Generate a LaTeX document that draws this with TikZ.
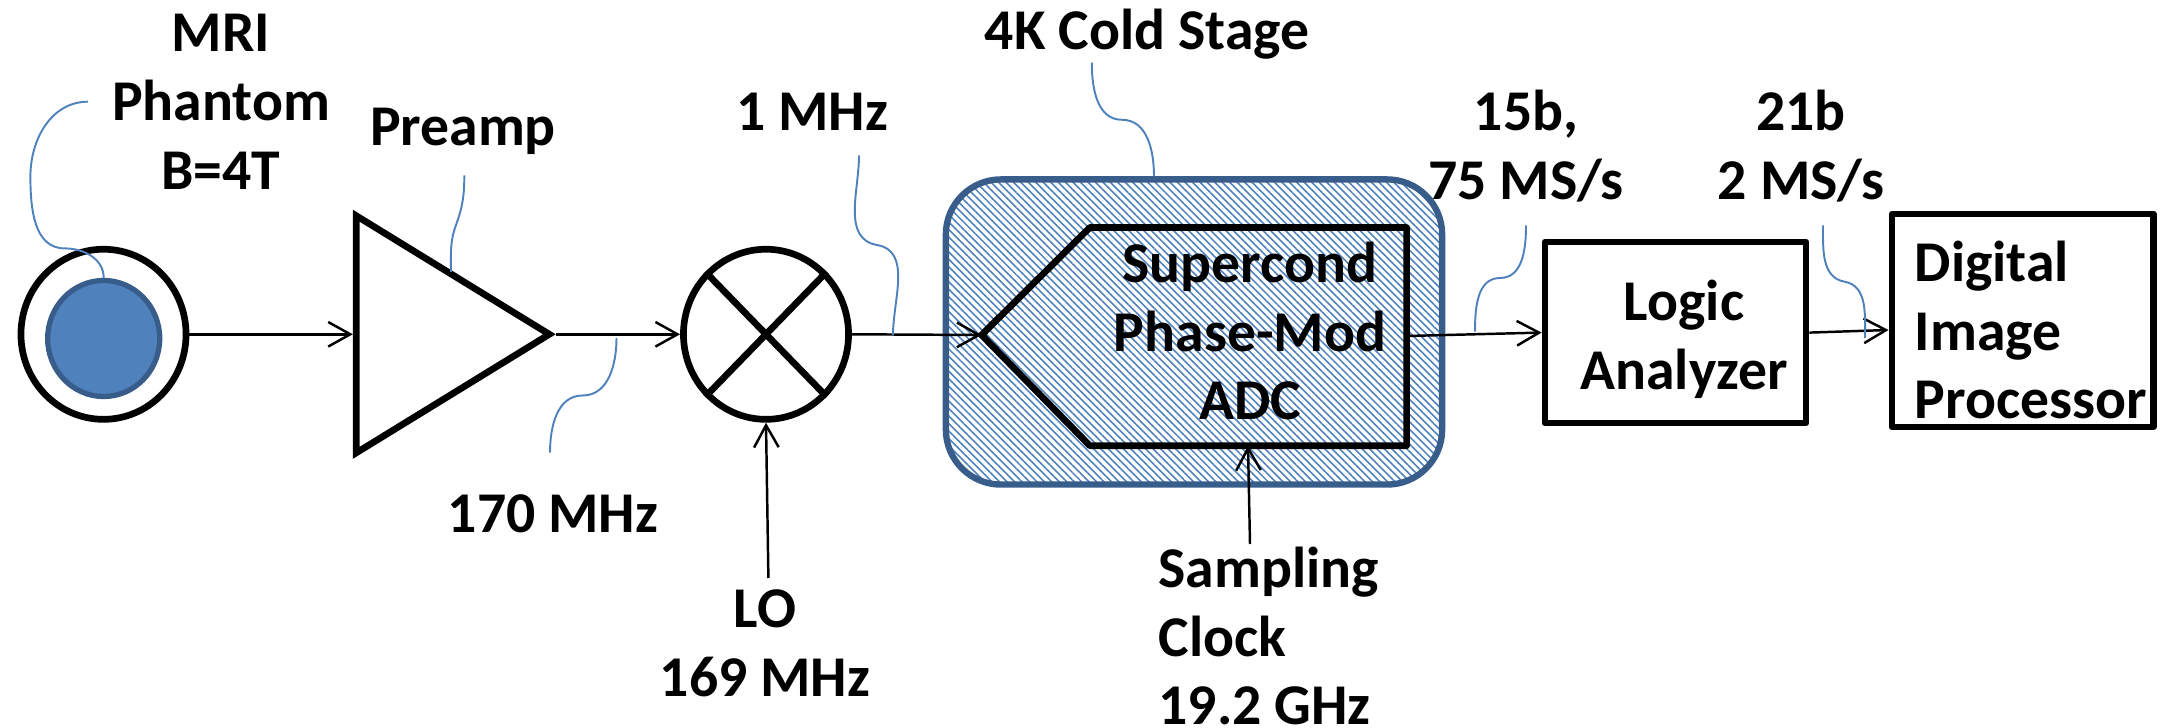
\documentclass[tikz,border=0pt]{standalone}
\usepackage{fontspec}
\setmainfont{Carlito}
\usepackage{tikz}
\usetikzlibrary{arrows.meta,shapes.geometric,positioning,calc,patterns.meta}
\definecolor{phantomblue}{HTML}{4F81BD}
\definecolor{edgeblue}{HTML}{385D8A}

\begin{document}
\begin{tikzpicture}[
    x=0.01cm, y=-0.01cm,
    lbl/.style={inner sep=0pt, align=center, font=\fontsize{16.4}{19.6}\selectfont\bfseries},
    lblleft/.style={lbl, align=left},
    block/.style={draw, line width=1.9pt, inner sep=0pt, line join=round},
    arr/.style={-{Straight Barb[length=6.3pt,width=7pt]}, line width=0.7pt},
    leader/.style={draw=phantomblue, line width=0.55pt}
]
\useasboundingbox (0,0) rectangle (2166,728);

% cold stage goes first, everything else sits on top
\node[draw=edgeblue, line width=1.8pt, rounded corners=0.55cm, inner sep=0pt, minimum width=4.96cm, minimum height=3.05cm, pattern={Lines[angle=-45,distance=1.5pt,line width=0.45pt]}, pattern color=phantomblue] (cold) at (1194,332) {};

\node[ellipse, block, minimum width=1.65cm, minimum height=1.70cm] (phantom) at (103.5,334.3) {};
\node[ellipse, draw=edgeblue, fill=phantomblue, line width=1.5pt, inner sep=0pt, minimum width=1.12cm, minimum height=1.16cm] (coil) at (103.7,338.5) {};
\node[isosceles triangle, isosceles triangle apex angle=60, isosceles triangle stretches, block, line join=miter, minimum height=1.93cm, minimum width=2.37cm, anchor=apex] (preamp) at (556,334.3) {};
\node[ellipse, block, minimum width=1.65cm, minimum height=1.70cm] (mixer) at (766,334.3) {};
\draw[line width=1.9pt] (mixer.north west) -- (mixer.south east);
\draw[line width=1.9pt] (mixer.north east) -- (mixer.south west);

\coordinate (adctip) at (981.6,335);
\coordinate (adctl) at (1089.8,227.5);
\coordinate (adctr) at (1406.6,227.5);
\coordinate (adcbr) at (1406.6,445.7);
\coordinate (adcbl) at (1089.8,445.7);
\draw[line width=1.9pt, line join=round] (adctip) -- (adctl) -- (adctr) -- (adcbr) -- (adcbl) -- cycle;
\coordinate (adcout) at (1406.6,336);
\coordinate (adcclk) at (1248,445.7);

\node[rectangle, block, minimum width=2.61cm, minimum height=1.81cm] (logic) at (1675.5,332.6) {};
\node[rectangle, block, minimum width=2.61cm, minimum height=2.13cm] (image) at (2022.7,320.5) {};

\node[lbl] (mri) at (221,102) {MRI\\Phantom\\B=4T};
\node[lbl] (preamplbl) at (463,131) {Preamp};
\node[lbl] (if) at (553,514) {170 MHz};
\node[lbl] (ifout) at (812,112) {1 MHz};
\node[lbl] (stage) at (1147,34) {4K Cold Stage};
\node[lbl] (adc) at (1250,331) {Supercond\\Phase-Mod\\ADC};
\node[lbl] (lo) at (765,643) {LO\\169 MHz};
\node[lblleft, anchor=west] (clock) at (1158,636) {Sampling\\Clock\\19.2 GHz};
\node[lbl] (bits) at (1526,146) {15b,\\75 MS/s};
\node[lbl] (rate) at (1801,146) {21b\\2 MS/s};
\node[lbl] (logiclbl) at (1684,339) {Logic\\Analyzer};
\node[lblleft, anchor=west] (imagelbl) at (1914,330) {Digital\\Image\\Processor};

\coordinate (loin) at (768.4,578);
\coordinate (clkin) at (1250,544);
\coordinate (imgin) at (1888.5,330);

\draw[arr] (phantom.east) -- (preamp.lower side);
\draw[arr] (preamp.apex) -- (mixer.west);
\draw[arr] (mixer.east) -- (adctip);
\draw[arr] (adcout) -- (logic.west);
\draw[arr] (logic.east) -- (imgin);
\draw[arr] (loin) -- (mixer.south);
\draw[arr] (clkin) -- (adcclk);

% thin blue leaders from the labels
\coordinate (a0) at (88,101.7);
\coordinate (a1) at (30.4,176.4);
\coordinate (a2) at (64.7,248.4);
\coordinate (b0) at (464.3,175.5);
\coordinate (b1) at (456,225);
\coordinate (b2) at (451,272);
\coordinate (c0) at (616.5,338);
\coordinate (c1) at (582.6,395.5);
\coordinate (c2) at (550,452.6);
\coordinate (d0) at (859,155.5);
\coordinate (d1) at (877,245);
\coordinate (d2) at (893,335);
\coordinate (e0) at (1091.8,62.7);
\coordinate (e1) at (1122,119.8);
\coordinate (e2) at (1154,176.4);
\coordinate (f0) at (1526,225.3);
\coordinate (f1) at (1500,278);
\coordinate (f2) at (1475,331.7);
\coordinate (g0) at (1823,225.3);
\coordinate (g1) at (1844.5,281.7);
\coordinate (g2) at (1865,338);

\draw[leader] (a0) to[out=180,in=90] (a1) to[out=-90,in=180] (a2) to[out=0,in=90] (coil.north);
\draw[leader] (b0) to[out=-90,in=70] (b1) to[out=-110,in=90] (b2);
\draw[leader] (c0) to[out=-90,in=0] (c1) to[out=180,in=90] (c2);
\draw[leader] (d0) to[out=-90,in=170] (d1) to[out=-10,in=90] (d2);
\draw[leader] (e0) to[out=-90,in=180] (e1) to[out=0,in=90] (e2);
\draw[leader] (f0) to[out=-90,in=0] (f1) to[out=180,in=90] (f2);
\draw[leader] (g0) to[out=-90,in=170] (g1) to[out=-10,in=90] (g2);
\end{tikzpicture}
\end{document}
